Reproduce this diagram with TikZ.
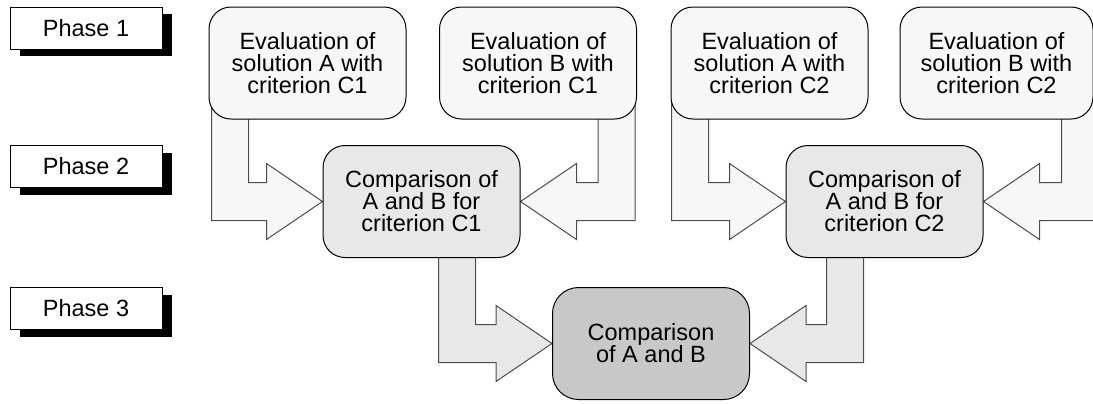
\documentclass[tikz,border=0pt]{standalone}
\usepackage{fontspec}
\setmainfont{Liberation Sans}
\usetikzlibrary{calc, backgrounds, shadows}

% block arrow: #1 fill, #2 source node, #3 outer shaft edge from west of source,
% #4 target anchor, #5 side (1 = comes in from the left, -1 = from the right)
\newcommand{\blockarrow}[5]{%
  \coordinate (s) at ($(#2.south west)+(#3,-20)$);
  \coordinate (t) at (#4);
  \draw[arrowline, fill=#1] (s) -- ($(s |- t)+(0,19)$) -- ($(t)+({-#5*56},19)$)
    -- ($(t)+({-#5*56},38)$) -- (t) -- ($(t)+({-#5*56},-38)$)
    -- ($(t)+({-#5*56},-19)$) -- ($(s |- t)+({#5*37},-19)$)
    -- ($(s)+({#5*37},0)$) -- cycle;
}

\definecolor{evalfill}{HTML}{F7F7F7}
\definecolor{compfill}{HTML}{E8E8E8}
\definecolor{finalfill}{HTML}{C8C8C8}

\begin{document}
\begin{tikzpicture}[
  x=0.5pt, y=-0.5pt,
  font=\fontsize{11.75pt}{11pt}\selectfont,
  every node/.style={align=center, inner sep=0pt},
  phase/.style={draw, line width=0.5pt, fill=white, minimum width=76pt, minimum height=21pt,
    drop shadow={shadow xshift=5pt, shadow yshift=-3.5pt, fill=black, opacity=1}},
  evalbox/.style={draw, line width=0.5pt, rounded corners=11pt, fill=evalfill,
    minimum width=98.5pt, minimum height=56pt},
  compbox/.style={evalbox, fill=compfill},
  finalbox/.style={evalbox, fill=finalfill, rounded corners=13pt},
  arrowline/.style={draw=black!70, line width=0.5pt},
]
\useasboundingbox (0,0) rectangle (1093,403);

  % phase labels
  \node[phase] (p1) at (86,28) {Phase 1};
  \node[phase] (p2) at (86,166.5) {Phase 2};
  \node[phase] (p3) at (86,308.5) {Phase 3};

  % phase 1
  \node[evalbox] (ea1) at (307.5,63) {Evaluation of\\solution A with\\criterion C1};
  \node[evalbox] (eb1) at (538,63) {Evaluation of\\solution B with\\criterion C1};
  \node[evalbox] (ea2) at (769.5,63) {Evaluation of\\solution A with\\criterion C2};
  \node[evalbox, minimum width=96.5pt] (eb2) at (996.5,63) {Evaluation of\\solution B with\\criterion C2};

  % phase 2
  \node[compbox] (c1) at (421.5,201.5) {Comparison of\\A and B for\\criterion C1};
  \node[compbox] (c2) at (884.5,201.5) {Comparison of\\A and B for\\criterion C2};

  % phase 3
  \node[finalbox] (ab) at (651,343.5) {Comparison\\of A and B};

  \begin{scope}[on background layer]
    \blockarrow{evalfill}{ea1}{3}{c1.west}{1}
    \blockarrow{evalfill}{eb1}{196}{c1.east}{-1}
    \blockarrow{evalfill}{ea2}{1}{c2.west}{1}
    \blockarrow{evalfill}{eb2}{199}{c2.east}{-1}
    \blockarrow{compfill}{c1}{116}{ab.west}{1}
    \blockarrow{compfill}{c2}{78}{ab.east}{-1}
  \end{scope}
\end{tikzpicture}
\end{document}
